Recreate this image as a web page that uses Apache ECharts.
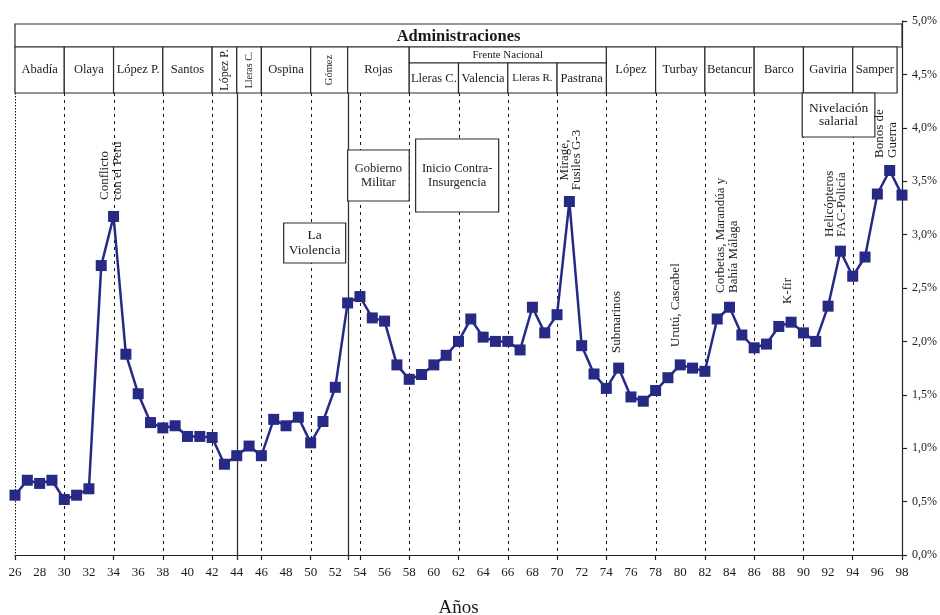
<!DOCTYPE html>
<html>
<head>
<meta charset="utf-8">
<script src="https://cdn.jsdelivr.net/npm/echarts@6/dist/echarts.min.js"></script>
<style>
html,body{margin:0;padding:0;background:#fff;}
#main{width:940px;height:615px;}
</style>
</head>
<body>
<div id="main"></div>
<script>
// ---- Data ----
const years = [26,27,28,29,30,31,32,33,34,35,36,37,38,39,40,41,42,43,44,45,46,47,48,49,50,51,52,53,54,55,56,57,58,59,60,61,62,63,64,65,66,67,68,69,70,71,72,73,74,75,76,77,78,79,80,81,82,83,84,85,86,87,88,89,90,91,92,93,94,95,96,97,98];
const gasto = [0.56,0.70,0.67,0.70,0.52,0.56,0.62,2.71,3.17,1.88,1.51,1.24,1.19,1.21,1.11,1.11,1.10,0.85,0.93,1.02,0.93,1.27,1.21,1.29,1.05,1.25,1.57,2.36,2.42,2.22,2.19,1.78,1.645,1.69,1.78,1.87,2.00,2.21,2.04,2.00,2.00,1.92,2.32,2.08,2.25,3.31,1.96,1.695,1.56,1.75,1.48,1.44,1.54,1.66,1.78,1.75,1.72,2.21,2.32,2.06,1.94,1.975,2.14,2.18,2.08,2.00,2.33,2.845,2.61,2.79,3.38,3.60,3.37];

const administraciones = [
  ['Abadía',26,30],['Olaya',30,34],['López P.',34,38],['Santos',38,42],
  ['López P.',42,44],['Lleras C.',44,46],['Ospina',46,50],['Gómez',50,53],
  ['Rojas',53,58],['López',74,78],['Turbay',78,82],['Betancur',82,86],
  ['Barco',86,90],['Gaviria',90,94],['Samper',94,97.6]
];
const frenteNacional = ['Frente Nacional',58,74];
const frenteCeldas = [['Lleras C.',58,62],['Valencia',62,66],['Lleras R.',66,70],['Pastrana',70,74]];
const tituloTabla = ['Administraciones',26,98];

const dashedYears = [30,34,38,42,46,50,54,58,62,66,70,74,78,82,86,90,94];
const solidYears = [44,53];
const firstYear = [26];

const eventos = [
  ['Conflicto\ncon el Perú',33.8],
  ['Mirage,\nFusiles G-3',71.1],
  ['Submarinos',74.8],
  ['Urutú, Cascabel',79.65],
  ['Corbetas, Marandúa y\nBahía Málaga',83.8],
  ['K-fir',88.7],
  ['Helicópteros\nFAC-Policía',92.6],
  ['Bonos de\nGuerra',96.7]
];
const cuadros = [
  ['Gobierno\nMilitar',53,58],
  ['Inicio Contra-\nInsurgencia',58.52,65.26],
  ['La\nViolencia',47.81,52.84],
  ['Nivelación\nsalarial',89.9,95.8]
];

// ---- Layout / styles ----
const FONT = '"Liberation Serif","Times New Roman",serif';
const INK = '#1a1a1a';
const BORDER = '#2a2a2a';
const celdaEstilo = {4:{rot:true,size:12},5:{rot:true,size:10},7:{rot:true,size:10.5}};
const frenteCeldaSize = {2:11};
const eventoLayout = [
  {y:200,align:'left'},{y:160,align:'center'},{y:353,align:'left'},{y:347,align:'left'},
  {y:293,align:'left'},{y:304,align:'left'},{y:237,align:'left'},{y:158,align:'left'}
];
const cuadroLayout = [
  {y0:150,y1:201,size:12.5,lh:14},
  {y0:139,y1:212,size:12.5,lh:14},
  {y0:223,y1:263,size:13.5,lh:14.5},
  {y0:93,y1:137,size:13.5,lh:13.5}
];

function txt(text, x, y, size, opts) {
  opts = opts || {};
  return {
    type:'text', x:x, y:y, rotation: opts.rot ? Math.PI/2 : 0, silent:true,
    style:{text:text, x:0, y:0, fill:INK, fontFamily:FONT, fontSize:size,
      fontWeight: opts.bold ? 'bold' : 'normal',
      align: opts.align || 'center', verticalAlign:'middle', lineHeight: opts.lh || size*1.0}
  };
}
function rect(x0,y0,x1,y1){
  return {type:'rect', silent:true, shape:{x:x0,y:y0,width:x1-x0,height:y1-y0},
    style:{fill:'#fff', stroke:BORDER, lineWidth:1.2}};
}

const chart = echarts.init(document.getElementById('main'), null, {renderer:'canvas'});

function renderBackground(params, api) {
  const top = api.coord([26,5])[1];
  const bottom = api.coord([26,0])[1];
  const t2 = top + 72;
  const children = [];
  dashedYears.forEach(function(yr){
    const x = Math.round(api.coord([yr,0])[0]) + 0.5;
    children.push({type:'line', silent:true, shape:{x1:x,y1:t2,x2:x,y2:bottom},
      style:{stroke:'#111', lineWidth:1, lineDash:[3,4]}});
  });
  firstYear.forEach(function(yr){
    const x = Math.round(api.coord([yr,0])[0]) + 0.5;
    children.push({type:'line', silent:true, shape:{x1:x,y1:t2,x2:x,y2:bottom},
      style:{stroke:'#111', lineWidth:1, lineDash:[1.5,1.5]}});
  });
  solidYears.forEach(function(yr){
    const x = Math.round(api.coord([yr,0])[0]) + 0.5;
    children.push({type:'line', silent:true, shape:{x1:x,y1:t2,x2:x,y2:bottom+5},
      style:{stroke:'#333', lineWidth:1.3}});
  });
  return {type:'group', children:children};
}

function renderForeground(params, api) {
  const top = api.coord([26,5])[1];
  const t0 = top + 3, t1 = top + 26, tF = top + 42, t2 = top + 72;
  const X = function(v){ return api.coord([v,0])[0]; };
  const children = [];
  children.push(rect(X(tituloTabla[1]), t0, X(tituloTabla[2]), t1));
  children.push(txt(tituloTabla[0], (X(tituloTabla[1])+X(tituloTabla[2]))/2, (t0+t1)/2+1, 16.5, {bold:true}));
  administraciones.forEach(function(a, i){
    const x0 = X(a[1]), x1 = X(a[2]);
    children.push(rect(x0, t1, x1, t2));
    const st = celdaEstilo[i];
    if (st && st.rot) {
      children.push(txt(a[0], (x0+x1)/2, (t1+t2)/2, st.size, {rot:true}));
    } else {
      children.push(txt(a[0], (x0+x1)/2, (t1+t2)/2, 12.5));
    }
  });
  children.push(rect(X(frenteNacional[1]), t1, X(frenteNacional[2]), tF));
  children.push(txt(frenteNacional[0], (X(frenteNacional[1])+X(frenteNacional[2]))/2, (t1+tF)/2+0.5, 11));
  frenteCeldas.forEach(function(a, i){
    const x0 = X(a[1]), x1 = X(a[2]);
    children.push(rect(x0, tF, x1, t2));
    children.push(txt(a[0], (x0+x1)/2, (tF+t2)/2+0.5, frenteCeldaSize[i] || 12.5));
  });
  cuadros.forEach(function(c, i){
    const L = cuadroLayout[i];
    const x0 = X(c[1]), x1 = X(c[2]);
    children.push(rect(x0, L.y0, x1, L.y1));
    children.push(txt(c[0], (x0+x1)/2, (L.y0+L.y1)/2, L.size, {lh:L.lh}));
  });
  eventos.forEach(function(e, i){
    const L = eventoLayout[i];
    children.push(txt(e[0], X(e[1]), L.y, 13, {rot:true, align:L.align, lh:12.5}));
  });
  return {type:'group', children:children};
}

const option = {
  animation:false,
  backgroundColor:'#fff',
  grid:{left:15, right:38, top:21, bottom:60, containLabel:false, outerBoundsMode:'none'},
  xAxis:[{
    type:'value', min:26, max:98, interval:2,
    axisLine:{show:true, lineStyle:{color:'#222', width:1.2}},
    axisTick:{show:false},
    splitLine:{show:false},
    axisLabel:{color:INK, fontFamily:FONT, fontSize:13, margin:11, formatter:function(v){return String(v);}},
    name:'Años', nameLocation:'middle', nameGap:44,
    nameTextStyle:{color:INK, fontFamily:FONT, fontSize:19}
  },{
    type:'value', min:26, max:98, interval:4, position:'bottom',
    axisLine:{show:false},
    axisTick:{show:true, length:5, lineStyle:{color:'#222', width:1.2}},
    axisLabel:{show:false}, splitLine:{show:false}
  }],
  yAxis:{
    type:'value', min:0, max:5, interval:0.5, position:'right',
    axisLine:{show:true, lineStyle:{color:'#222', width:1.2}},
    axisTick:{show:true, length:5, lineStyle:{color:'#222', width:1.2}},
    splitLine:{show:false},
    axisLabel:{color:INK, fontFamily:FONT, fontSize:12, margin:10,
      formatter:function(v){return v.toFixed(1).replace('.',',')+'%';}}
  },
  series:[
    {type:'custom', z:1, clip:false, renderItem:renderBackground, data:[[26,0]], silent:true},
    {type:'line', z:3, data: years.map(function(y,i){return [y, gasto[i]];}),
      symbol:'rect', symbolSize:11, showSymbol:true,
      lineStyle:{color:'#262a85', width:2.5},
      itemStyle:{color:'#262a85'}},
    {type:'custom', z:5, clip:false, renderItem:renderForeground, data:[[26,0]], silent:true}
  ]
};
chart.setOption(option);
</script>
</body>
</html>
